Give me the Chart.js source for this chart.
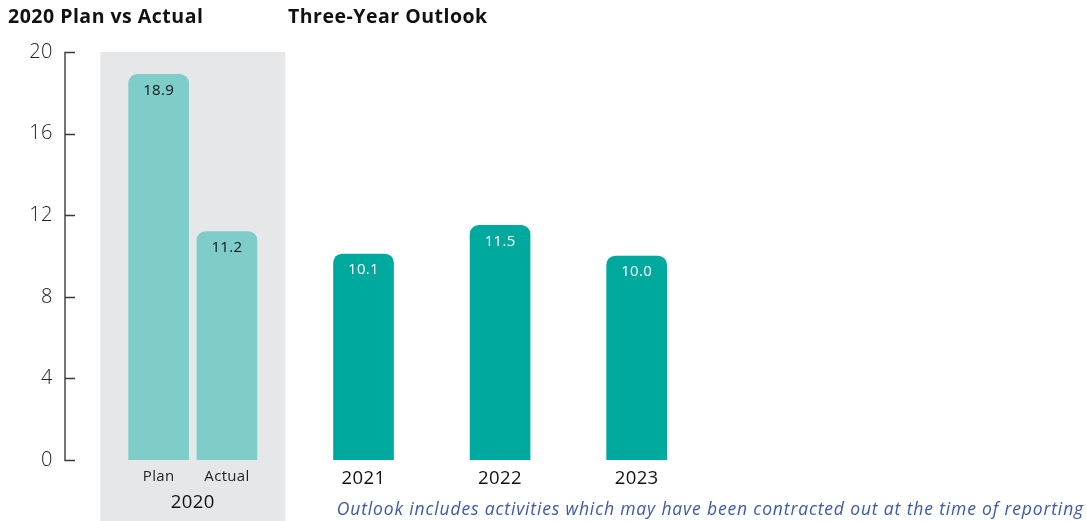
<!DOCTYPE html>
<html>
<head>
<meta charset="utf-8">
<script src="https://cdn.jsdelivr.net/npm/chart.js@4"></script>
<style>
  html, body { margin: 0; padding: 0; background: #ffffff; }
  #wrap { width: 1087px; height: 521px; }
</style>
</head>
<body>
<div id="wrap"><canvas id="c" width="1087" height="521"></canvas></div>
<script>
// x categories: the 2020 pair, then the outlook years with spacer slots
const categories = ['Plan', 'Actual', '', '2021', '', '2022', '', '2023', '', '', '', '', '', ''];
const planActual = [18.9, 11.2];
const outlook = [10.1, 11.5, 10.0];
const outlookYears = ['2021', '2022', '2023'];
const yTicks = [0, 4, 8, 12, 16, 20];

const titleLeft = '2020 Plan vs Actual';
const titleRight = 'Three-Year Outlook';
const groupLabel = '2020';
const footnote = 'Outlook includes activities which may have been contracted out at the time of reporting';

const FONT = '"Open Sans", Lato, sans-serif';
const LIGHT_TEAL = '#7ecdc8';
const DARK_TEAL = '#00a99d';

// place each series value on its category slot
const planData = categories.map(() => null);
planData[categories.indexOf('Plan')] = planActual[0];
planData[categories.indexOf('Actual')] = planActual[1];
const outlookData = categories.map(() => null);
outlookYears.forEach((yr, i) => { outlookData[categories.indexOf(yr)] = outlook[i]; });

function spacing(ctx, px) {
  if ('letterSpacing' in ctx) ctx.letterSpacing = px + 'px';
}

const decor = {
  id: 'decor',
  beforeDatasetsDraw(chart) {
    const { ctx } = chart;
    const x = chart.scales.x, y = chart.scales.y;
    // grey panel behind the 2020 pair
    const mid = (x.getPixelForValue(0) + x.getPixelForValue(1)) / 2;
    ctx.save();
    ctx.fillStyle = '#e6e7e8';
    ctx.fillRect(mid - 92.5, y.getPixelForValue(20), 185, chart.height - y.getPixelForValue(20));
    ctx.restore();
  },
  afterDatasetsDraw(chart) {
    const { ctx } = chart;
    const x = chart.scales.x, y = chart.scales.y;
    ctx.save();
    // y axis line with inward ticks
    const ax = 65;
    ctx.strokeStyle = '#3a3a3a';
    ctx.lineWidth = 1.4;
    ctx.beginPath();
    ctx.moveTo(ax, y.getPixelForValue(0));
    ctx.lineTo(ax, y.getPixelForValue(20));
    yTicks.forEach(v => {
      const py = Math.round(y.getPixelForValue(v)) + 0.5;
      ctx.moveTo(ax - 0.7, py);
      ctx.lineTo(ax + 10, py);
    });
    ctx.stroke();

    // y tick labels
    ctx.textAlign = 'right';
    ctx.textBaseline = 'middle';
    ctx.fillStyle = '#222222';
    ctx.font = '300 20px ' + FONT;
    spacing(ctx, 0.5);
    yTicks.forEach(v => ctx.fillText(String(v), 53, y.getPixelForValue(v)));

    // category labels
    ctx.textAlign = 'center';
    categories.forEach((lab, i) => {
      if (!lab) return;
      const px = x.getPixelForValue(i);
      if (i < 2) {
        ctx.font = '15px ' + FONT;
        ctx.fillStyle = '#222222';
        spacing(ctx, 0.3);
        ctx.fillText(lab, px, 477);
      } else {
        ctx.font = '500 18.5px ' + FONT;
        ctx.fillStyle = '#111111';
        spacing(ctx, 0.4);
        ctx.fillText(lab, px, 479);
      }
    });

    // value labels inside bar tops
    ctx.font = '15px ' + FONT;
    spacing(ctx, 0.3);
    chart.data.datasets.forEach((ds, di) => {
      const meta = chart.getDatasetMeta(di);
      meta.data.forEach((el, i) => {
        const v = ds.data[i];
        if (v == null) return;
        ctx.fillStyle = di === 0 ? '#111111' : '#ffffff';
        ctx.fillText(v.toFixed(1), el.x, el.y + 16);
      });
    });

    // group label under the 2020 pair
    const mid = (x.getPixelForValue(0) + x.getPixelForValue(1)) / 2;
    ctx.fillStyle = '#111111';
    ctx.font = '500 18.5px ' + FONT;
    spacing(ctx, 0.4);
    ctx.fillText(groupLabel, mid, 503);

    // headings
    ctx.textAlign = 'left';
    ctx.font = 'bold 19.5px ' + FONT;
    spacing(ctx, 0.5);
    ctx.fillText(titleLeft, 8, 17);
    ctx.fillText(titleRight, 288, 17);

    // footnote
    ctx.textAlign = 'right';
    ctx.font = 'italic 17.5px ' + FONT;
    spacing(ctx, 0.85);
    ctx.fillStyle = '#3c5aa6';
    ctx.fillText(footnote, 1084, 510);
    ctx.restore();
  }
};

new Chart(document.getElementById('c'), {
  type: 'bar',
  data: {
    labels: categories,
    datasets: [
      { data: planData, backgroundColor: LIGHT_TEAL, borderRadius: 9, borderSkipped: 'start', barThickness: 60, grouped: false },
      { data: outlookData, backgroundColor: DARK_TEAL, borderRadius: 9, borderSkipped: 'start', barThickness: 60, grouped: false }
    ]
  },
  options: {
    responsive: false,
    animation: false,
    devicePixelRatio: 1,
    layout: { padding: { top: 52, right: 6.5, bottom: 61, left: 124.5 } },
    plugins: { legend: { display: false }, tooltip: { enabled: false } },
    scales: {
      x: { display: false, offset: true },
      y: { display: false, min: 0, max: 20 }
    }
  },
  plugins: [decor]
});
</script>
</body>
</html>
